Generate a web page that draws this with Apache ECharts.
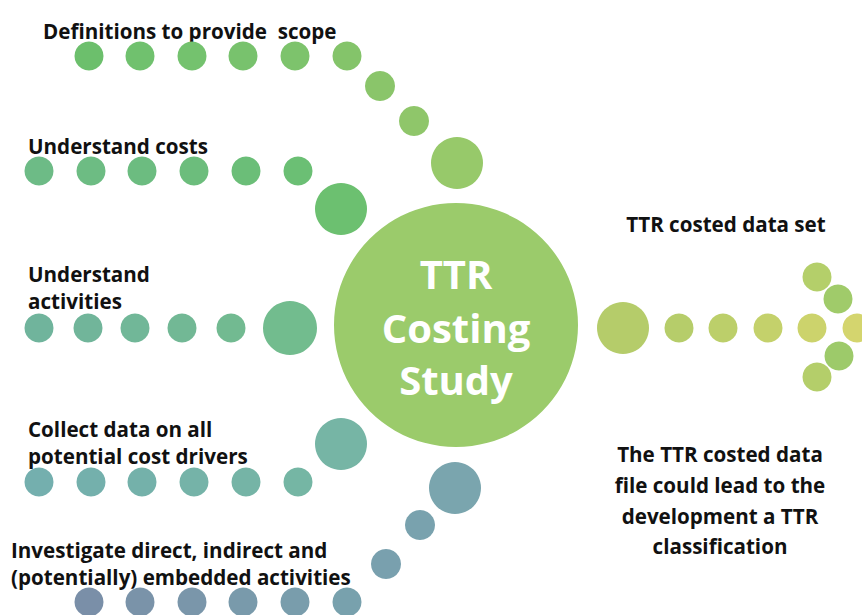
<!DOCTYPE html>
<html>
<head>
<meta charset="utf-8">
<script src="https://cdn.jsdelivr.net/npm/echarts@6/dist/echarts.min.js"></script>
<style>html,body{margin:0;padding:0;background:#fff}#c{width:862px;height:615px}</style>
</head>
<body>
<div id="c"></div>
<script>
// Branch: Definitions to provide scope
const defX = [89, 140, 192, 243, 295, 347, 380, 414, 457];
const defY = [56, 56, 56, 56, 56, 56, 86, 121, 163];
const defR = [14.5, 14.5, 14.5, 14.5, 14.5, 14.5, 15, 15, 26];
const defC = ['#6CBF6C', '#70C16E', '#74C26E', '#78C26D', '#7DC36C', '#84C46A', '#8AC56A', '#8FC66A', '#97C96A'];
// Branch: Understand costs
const costX = [39, 91, 142, 194, 246, 298, 341];
const costY = [171, 171, 171, 171, 171, 171, 209];
const costR = [14.5, 14.5, 14.5, 14.5, 14.5, 14.5, 26];
const costC = ['#6DBB86', '#6DBC83', '#6CBC80', '#6CBD7C', '#6BBE78', '#6BBF74', '#6CC070'];
// Branch: Understand activities
const actX = [39, 88, 135, 182, 231, 290];
const actY = [328, 328, 328, 328, 328, 328];
const actR = [14.5, 14.5, 14.5, 14.5, 14.5, 27];
const actC = ['#70B49C', '#71B59A', '#71B798', '#72B895', '#72BA91', '#72BC8E'];
// Branch: Collect data on all potential cost drivers
const colX = [39, 91, 142, 194, 246, 298, 341];
const colY = [482, 482, 482, 482, 482, 482, 444];
const colR = [14.5, 14.5, 14.5, 14.5, 14.5, 14.5, 26];
const colC = ['#74AFAE', '#74B0AC', '#74B1AA', '#75B3A8', '#75B4A6', '#75B6A4', '#76B5A5'];
// Branch: Investigate direct, indirect and embedded activities
const invX = [89, 140, 192, 243, 295, 347, 386, 420, 455];
const invY = [602, 602, 602, 602, 602, 602, 564, 525, 488];
const invR = [14.5, 14.5, 14.5, 14.5, 14.5, 14.5, 15, 15, 26];
const invC = ['#7A8FA8', '#7A93A9', '#7A96AA', '#799AAB', '#799DAC', '#78A1AD', '#79A0AE', '#79A2AE', '#7AA5AE'];
// Centre
const mainX = [456];
const mainY = [325];
const mainR = [122];
const mainC = ['#9BCB6B'];
// Output: TTR costed data set
const outX = [623, 679, 723, 768, 812, 857, 817, 838, 839, 817];
const outY = [328, 328, 328, 328, 328, 328, 277, 299, 356, 377];
const outR = [26, 14.5, 14.5, 14.5, 14.5, 14.5, 14.5, 14.5, 14.5, 14.5];
const outC = ['#B5CC6A', '#B6CD6A', '#BCCF6A', '#C4D16B', '#CCD36C', '#D4D56E', '#B4CF6A', '#A0CB6A', '#9DCA6A', '#B4CE6A'];

// Labels
const leftLabels = [
  {lines: ['Definitions to provide  scope'], x: 43, y: 30},
  {lines: ['Understand costs'], x: 28, y: 145},
  {lines: ['Understand', 'activities'], x: 28, y: 273},
  {lines: ['Collect data on all', 'potential cost drivers'], x: 28, y: 428},
  {lines: ['Investigate direct, indirect and', '(potentially) embedded activities'], x: 11, y: 549}
];
const centreLines = ['TTR', 'Costing', 'Study'];
const outTitle = 'TTR costed data set';
const outNote = ['The TTR costed data', 'file could lead to the', 'development a TTR', 'classification'];

function build(xs, ys, rs, cs) {
  return xs.map((x, i) => ({value: [x, ys[i]], symbolSize: rs[i] * 2, itemStyle: {color: cs[i]}}));
}
const groups = [
  [mainX, mainY, mainR, mainC],
  [defX, defY, defR, defC],
  [costX, costY, costR, costC],
  [actX, actY, actR, actC],
  [colX, colY, colR, colC],
  [invX, invY, invR, invC],
  [outX, outY, outR, outC]
];
const series = groups.map(g => ({
  type: 'scatter', symbol: 'circle', clip: false, silent: true,
  data: build(g[0], g[1], g[2], g[3]),
  itemStyle: {opacity: 1}
}));

const FONT = '"Open Sans", sans-serif';
const textStyle = {fontFamily: FONT, fontWeight: 'bold', fontSize: 20.6, fill: '#111', verticalAlign: 'middle'};
const graphics = [];
leftLabels.forEach(l => {
  l.lines.forEach((t, i) => {
    graphics.push({type: 'text', x: l.x, y: l.y + 1 + i * 27,
      style: Object.assign({text: t}, textStyle)});
  });
});

const chart = echarts.init(document.getElementById('c'), null, {renderer: 'svg'});
chart.setOption({
  animation: false,
  grid: {left: 0, right: 0, top: 0, bottom: 0},
  xAxis: {type: 'value', min: 0, max: 862, show: false},
  yAxis: {type: 'value', min: 0, max: 615, inverse: true, show: false},
  series: series.concat([{
    type: 'scatter', silent: true, symbolSize: 0, itemStyle: {opacity: 1},
    data: [[456, 273], [456, 327], [456, 379]],
    label: {show: true, position: 'inside', formatter: p => centreLines[p.dataIndex],
      color: '#fff', fontFamily: FONT, fontWeight: 'bold', fontSize: 40}
  }, {
    type: 'scatter', silent: true, symbolSize: 0, itemStyle: {opacity: 1},
    data: [[726, 224], [720, 454], [720, 485], [720, 516], [720, 546]],
    label: {show: true, position: 'inside',
      formatter: p => p.dataIndex === 0 ? outTitle : outNote[p.dataIndex - 1],
      color: '#111', fontFamily: FONT, fontWeight: 'bold', fontSize: 20.6}
  }]),
  graphic: graphics
});
</script>
</body>
</html>
